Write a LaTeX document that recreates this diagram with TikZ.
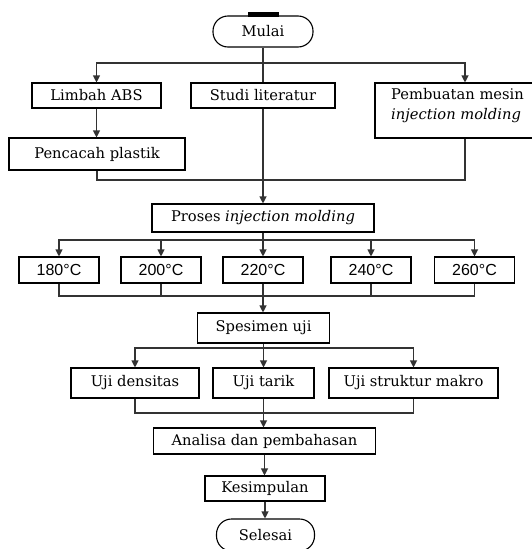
\documentclass[tikz,border=0pt]{standalone}
\usepackage{fontspec}
\setmainfont{DejaVu Serif}
\newfontfamily\tempfont{Liberation Sans}
\usetikzlibrary{arrows.meta}
\tikzset{
  box/.style={draw=black, line width=1.1pt, fill=white, inner sep=0pt, align=center,
    font=\fontsize{14.7}{17}\selectfont},
  term/.style={box, rounded corners=15pt},
  tbox/.style={box, minimum width=80pt, minimum height=26pt, font=\tempfont\fontsize{16}{18}\selectfont},
  conn/.style={draw=black!80, line width=1.1pt},
  arr/.style={conn, -{Triangle[width=7pt,length=7pt]}}
}
\begin{document}
\begin{tikzpicture}[x=1pt,y=-1pt]
\useasboundingbox (0,0) rectangle (532,549);
% nodes
\node[term, minimum width=100pt, minimum height=31pt] (mulai) at (263,31.5) {Mulai};
\fill[black] (248,12) rectangle (279,16.5);
\node[box, minimum width=129pt, minimum height=25pt] (limbah) at (96.5,95.5) {Limbah ABS};
\node[box, minimum width=144pt, minimum height=25pt] (studi) at (263,95.5) {Studi literatur};
\node[box, minimum width=180pt, minimum height=55pt] (pemb) at (465,110.5) {};
\node[anchor=north west, inner sep=0pt, align=left, font=\fontsize{14.7}{20}\selectfont] (pembtext) at (391,88) {Pembuatan mesin\\\textit{injection molding}};
\node[box, minimum width=176pt, minimum height=32pt] (pencacah) at (97,154) {Pencacah plastik};
\node[box, minimum width=222pt, minimum height=28pt] (proses) at (263,218) {Proses \textit{injection molding}};
\node[tbox] (t180) at (59,270) {180°C};
\node[tbox] (t200) at (161,270) {200°C};
\node[tbox] (t220) at (263,270) {220°C};
\node[tbox] (t240) at (371,270) {240°C};
\node[tbox] (t260) at (474.5,270) {260°C};
\node[box, minimum width=132pt, minimum height=30pt] (spes) at (263.5,328) {Spesimen uji};
\node[box, minimum width=128pt, minimum height=30pt] (ujid) at (135,383) {Uji densitas};
\node[box, minimum width=101pt, minimum height=30pt] (ujit) at (263.5,383) {Uji tarik};
\node[box, minimum width=169pt, minimum height=30pt] (ujis) at (413.5,383) {Uji struktur makro};
\node[box, minimum width=222pt, minimum height=26pt] (anal) at (264.5,441) {Analisa dan pembahasan};
\node[box, minimum width=120pt, minimum height=25pt] (kesim) at (265,488.5) {Kesimpulan};
\node[term, minimum width=98pt, minimum height=32pt] (seles) at (265.5,535) {Selesai};
% junctions
\coordinate (j1) at (263,63);
\coordinate (j2) at (263,180);
\coordinate (j3) at (263,240);
\coordinate (j4) at (263,296);
\coordinate (j5) at (263.5,348);
\coordinate (j6) at (263.5,413);
% connectors
\draw[conn] (mulai.south) -- (studi.north);
\draw[arr] (j1) -| (limbah.north);
\draw[arr] (j1) -| (pemb.north);
\draw[arr] (limbah.south) -- (limbah.south |- pencacah.north);
\draw[conn] (pencacah.south) |- (j2);
\draw[conn] (pemb.south) |- (j2);
\draw[arr] (studi.south) -- (proses.north);
\draw[conn] (proses.south) -- (j3);
\foreach \t in {t180,t200,t220,t240,t260} {
  \draw[arr] (j3) -| (\t.north);
  \draw[conn] (\t.south) |- (j4);
}
\draw[arr] (t220.south) -- (t220.south |- spes.north);
\draw[conn] (spes.south) -- (j5);
\foreach \u in {ujid,ujit,ujis} {
  \draw[arr] (j5) -| (\u.north);
  \draw[conn] (\u.south) |- (j6);
}
\draw[arr] (ujit.south) -- (ujit.south |- anal.north);
\draw[arr] (anal.south) -- (anal.south |- kesim.north);
\draw[arr] (kesim.south) -- (kesim.south |- seles.north);
\end{tikzpicture}
\end{document}
